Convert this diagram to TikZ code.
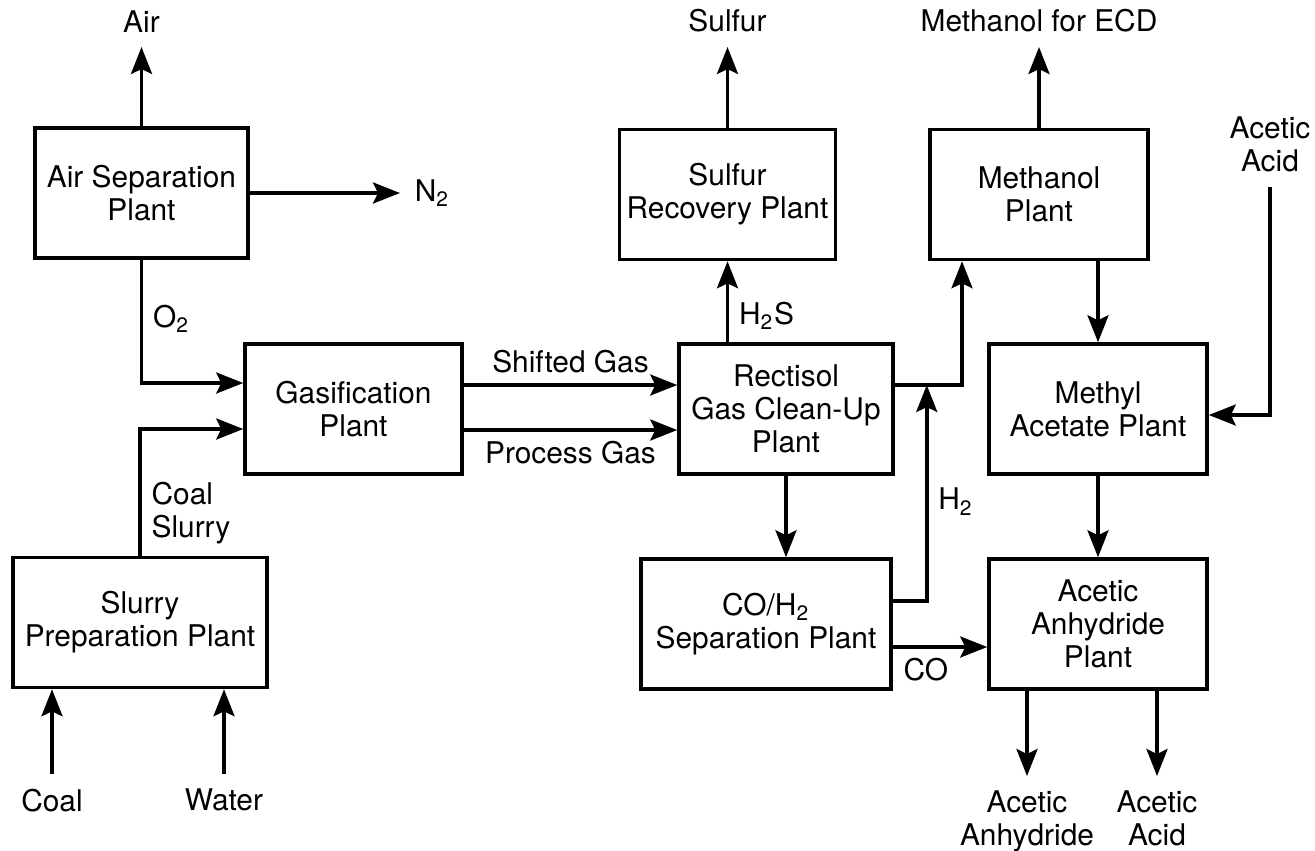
\documentclass[tikz,border=0pt]{standalone}
\usepackage{fontspec}
\setmainfont{TeX Gyre Heros}
\usetikzlibrary{arrows.meta,positioning,calc}
\newcommand{\plantfont}{\fontsize{8.5}{9.4}\selectfont}
\tikzset{
  plantbox/.style={draw, line width=1pt, align=center, minimum height=13mm,
    inner sep=2pt, font=\plantfont},
  arr/.style={-{Stealth[length=2.7mm, width=2.1mm, inset=0.5mm]}, line width=1pt},
  lbl/.style={align=center, inner sep=4pt, font=\plantfont},
  flowlbl/.style={align=left, inner sep=2.8pt, font=\plantfont}
}

\begin{document}
\begin{tikzpicture}[x=0.1mm, y=-0.1mm]
    \useasboundingbox (0,0) rectangle (1315,850);
    % plants
    \node[plantbox, minimum width=21.3mm] (airsep) at (141.5,193) {Air Separation\\Plant};
    \node[plantbox, minimum width=21.7mm] (gasif) at (353.5,409) {Gasification\\Plant};
    \node[plantbox, minimum width=25.4mm] (slurry) at (140,622.5) {Slurry\\Preparation Plant};
    \node[plantbox, minimum width=21.5mm] (sulfur) at (727.5,194.5) {Sulfur\\Recovery Plant};
    \node[plantbox, minimum width=21.8mm] (methanol) at (1039,194.5) {Methanol\\Plant};
    \node[plantbox, minimum width=21.4mm] (rectisol) at (786,409) {Rectisol\\Gas Clean-Up\\Plant};
    \node[plantbox, minimum width=25mm] (copair) at (766,624) {CO/H\textsubscript{2}\\Separation Plant};
    \node[plantbox, minimum width=21.8mm] (methyl) at (1098,409) {Methyl\\Acetate Plant};
    \node[plantbox, minimum width=21.8mm] (anhyd) at (1098,624) {Acetic\\Anhydride\\Plant};
    % feeds and products
    \node[lbl, anchor=south] (airout) at (airsep.north |- 0,47) {Air};
    \node[lbl, anchor=west] (nitro) at (400,193) {N\textsubscript{2}};
    \node[lbl, anchor=south] (sulfout) at (sulfur.north |- 0,47) {Sulfur};
    \node[lbl, anchor=south] (methout) at (methanol.north |- 0,47) {Methanol for ECD};
    \node[lbl, anchor=south] (acidin) at (1270,187) {Acetic\\Acid};
    \node[lbl, anchor=north] (coal) at (52,774) {Coal};
    \node[lbl, anchor=north] (water) at (224,774) {Water};
    \node[lbl, anchor=north] (aanout) at (1027,776) {Acetic\\Anhydride};
    \node[lbl, anchor=north] (acidout) at (1157,776) {Acetic\\Acid};
    \coordinate (h2join) at ($(rectisol.east)+(32,-24)$);
    % streams
    \draw[arr] (airsep) -- (airout);
    \draw[arr] (airsep) -- (nitro);
    \draw[arr] (airsep.south) |- ($(gasif.west)+(0,-26)$) node[flowlbl, pos=0.24, right] {O\textsubscript{2}};
    \draw[arr] (slurry.north) |- ($(gasif.west)+(0,20)$) node[flowlbl, pos=0.17, right] {Coal\\Slurry};
    \draw[arr] (coal) -- (coal |- slurry.south);
    \draw[arr] (water) -- (water |- slurry.south);
    \draw[arr] ($(gasif.east)+(0,-24)$) -- ($(rectisol.west)+(0,-24)$) node[flowlbl, midway, above] {Shifted Gas};
    \draw[arr] ($(gasif.east)+(0,21)$) -- ($(rectisol.west)+(0,21)$) node[flowlbl, midway, below] {Process Gas};
    \draw[arr] (rectisol.north -| sulfur.south) -- (sulfur.south) node[flowlbl, pos=0.33, right] {H\textsubscript{2}S};
    \draw[arr] (sulfur) -- (sulfout);
    \draw[arr] ($(rectisol.east)+(0,-24)$) -| ($(methanol.south)+(-77,0)$);
    \draw[arr] ($(copair.east)+(0,-23)$) -| (h2join) node[flowlbl, pos=0.73, right] {H\textsubscript{2}};
    \draw[arr] (rectisol.south) -- (rectisol.south |- copair.north);
    \draw[arr] ($(copair.east)+(0,23)$) -- ($(anhyd.west)+(0,23)$) node[flowlbl, pos=0.35, below] {CO};
    \draw[arr] (methanol) -- (methout);
    \draw[arr] (methyl.north |- methanol.south) -- (methyl.north);
    \draw[arr] (acidin) |- ($(methyl.east)+(0,6)$);
    \draw[arr] (methyl) -- (anhyd);
    \draw[arr] (anhyd.south -| aanout) -- (aanout);
    \draw[arr] (anhyd.south -| acidout) -- (acidout);
\end{tikzpicture}
\end{document}
